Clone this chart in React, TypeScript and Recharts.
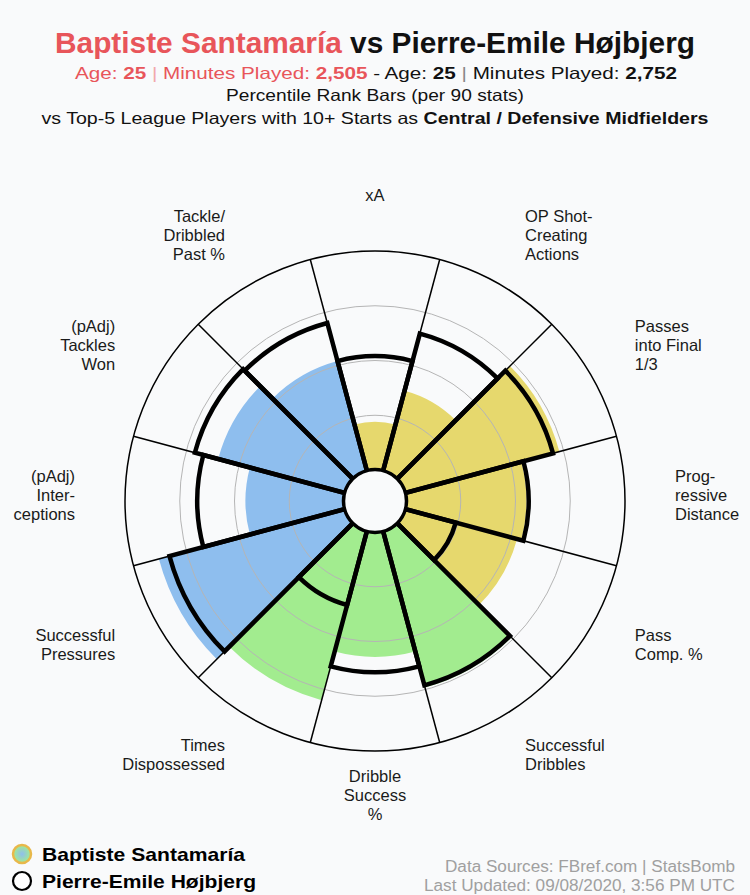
import React from 'react';
import {
  RadialBarChart,
  RadialBar,
  PolarAngleAxis,
  PolarRadiusAxis,
  PolarGrid,
  Cell,
} from 'recharts';

// ---------- data ----------
const categories = [
  'xA',
  'OP Shot-Creating Actions',
  'Passes into Final 1/3',
  'Progressive Distance',
  'Pass Comp. %',
  'Successful Dribbles',
  'Dribble Success %',
  'Times Dispossessed',
  'Successful Pressures',
  '(pAdj) Interceptions',
  '(pAdj) Tackles Won',
  'Tackle/Dribbled Past %',
];

const tickLabels = [
  ['xA'],
  ['OP Shot-', 'Creating', 'Actions'],
  ['Passes', 'into Final', '1/3'],
  ['Prog-', 'ressive', 'Distance'],
  ['Pass', 'Comp. %'],
  ['Successful', 'Dribbles'],
  ['Dribble', 'Success', '%'],
  ['Times', 'Dispossessed'],
  ['Successful', 'Pressures'],
  ['(pAdj)', 'Inter-', 'ceptions'],
  ['(pAdj)', 'Tackles', 'Won'],
  ['Tackle/', 'Dribbled', 'Past %'],
];

const santamaria = [22, 38, 73, 55, 53, 74, 57, 80, 88, 45, 60, 52];
const hojbjerg = [52, 65, 70, 56, 24, 73, 64, 35, 83, 67, 71, 70];
const groups = [
  'attack', 'attack', 'attack', 'attack', 'attack',
  'possession', 'possession', 'possession',
  'defense', 'defense', 'defense', 'defense',
];
const gridTicks = [25, 50, 75];

// ---------- styling / layout ----------
const groupColors: Record<string, string> = {
  attack: '#E6D86D',
  possession: '#A2EC8F',
  defense: '#8EBEEE',
};
const BG = '#F9FAFB';
const RED = '#E8555A';
const W = 750;
const H = 895;
const CX = 375;
const CY = 501;
const INNER = 31;
const OUTER = 250;
const STEP = 360 / categories.length;
// first band spans [START, START + STEP], i.e. centred at the top
const START = 90 - STEP / 2;
const LABEL_R = 300;
const LABEL_DY = 6;
const FONT = '"Liberation Sans", Arial, Helvetica, sans-serif';

const data = categories.map((name, i) => ({
  name,
  santa: santamaria[i],
  hoj: hojbjerg[i],
  group: groups[i],
}));

const spokeAngles = categories.map((_, i) => START - i * STEP);
const radiusOf = (v: number) => INNER + ((OUTER - INNER) * v) / 100;

const AngleTick = (props: any) => {
  const { payload } = props;
  const idx = categories.indexOf(payload.value);
  const lines = tickLabels[idx] || [String(payload.value)];
  const rad = ((payload.coordinate + STEP / 2) * Math.PI) / 180;
  const c = Math.cos(rad);
  const x = CX + LABEL_R * c;
  const y = CY - LABEL_DY - LABEL_R * Math.sin(rad);
  const anchor = Math.abs(c) < 0.01 ? 'middle' : c > 0 ? 'start' : 'end';
  const LH = 19;
  const y0 = y - ((lines.length - 1) * LH) / 2;
  return (
    <g>
      {lines.map((ln, i) => (
        <text
          key={i}
          x={x}
          y={y0 + i * LH}
          dy="0.36em"
          textAnchor={anchor}
          fontSize={16.5}
          fontFamily={FONT}
          fill="#1a1a1a"
        >
          {ln}
        </text>
      ))}
    </g>
  );
};

const chartCommon = {
  width: W,
  height: H,
  data,
  cx: CX,
  cy: CY,
  innerRadius: INNER,
  outerRadius: OUTER,
  startAngle: START,
  endAngle: START - 360,
  layout: 'centric' as any,
  barCategoryGap: 0,
  barGap: 0,
  margin: { top: 0, right: 0, bottom: 0, left: 0 },
};

export default function App() {
  return (
    <div
      style={{
        position: 'absolute',
        left: 0,
        top: 0,
        width: W,
        height: H,
        background: BG,
        overflow: 'hidden',
      }}
    >
      {/* header */}
      <svg width={W} height={140} style={{ position: 'absolute', left: 0, top: 0 }}>
        <text
          x={375}
          y={53}
          textAnchor="middle"
          fontSize={30}
          fontWeight={700}
          fontFamily={FONT}
          textLength={640}
          lengthAdjust="spacingAndGlyphs"
        >
          <tspan fill={RED}>Baptiste Santamaría</tspan>
          <tspan fill="#111"> vs Pierre-Emile Højbjerg</tspan>
        </text>
        <text
          x={376}
          y={79}
          textAnchor="middle"
          fontSize={16.5}
          fontFamily={FONT}
          textLength={602}
          lengthAdjust="spacingAndGlyphs"
        >
          <tspan fill={RED}>Age: </tspan>
          <tspan fill={RED} fontWeight={700}>25</tspan>
          <tspan fill="#F2A9AB">{'  |  '}</tspan>
          <tspan fill={RED}>Minutes Played: </tspan>
          <tspan fill={RED} fontWeight={700}>2,505</tspan>
          <tspan fill="#111"> - Age: </tspan>
          <tspan fill="#111" fontWeight={700}>25</tspan>
          <tspan fill="#888">{'  |  '}</tspan>
          <tspan fill="#111">Minutes Played: </tspan>
          <tspan fill="#111" fontWeight={700}>2,752</tspan>
        </text>
        <text
          x={375}
          y={101}
          textAnchor="middle"
          fontSize={16.5}
          fontFamily={FONT}
          fill="#111"
          textLength={298}
          lengthAdjust="spacingAndGlyphs"
        >
          Percentile Rank Bars (per 90 stats)
        </text>
        <text
          x={375}
          y={124}
          textAnchor="middle"
          fontSize={16.5}
          fontFamily={FONT}
          fill="#111"
          textLength={667}
          lengthAdjust="spacingAndGlyphs"
        >
          <tspan>vs Top-5 League Players with 10+ Starts as </tspan>
          <tspan fontWeight={700}>Central / Defensive Midfielders</tspan>
        </text>
      </svg>

      {/* layer 1: Santamaría filled bars */}
      <div style={{ position: 'absolute', left: 0, top: 0 }}>
        <RadialBarChart {...chartCommon}>
          <PolarAngleAxis type="category" dataKey="name" tick={false} axisLine={false} tickLine={false} />
          <PolarRadiusAxis type="number" domain={[0, 100]} tick={false} axisLine={false} tickLine={false} />
          <RadialBar dataKey="santa" isAnimationActive={false} stroke="none">
            {data.map((d, i) => (
              <Cell key={i} fill={groupColors[d.group]} />
            ))}
          </RadialBar>
        </RadialBarChart>
      </div>

      {/* layer 2: grid, Højbjerg outline bars, labels */}
      <div style={{ position: 'absolute', left: 0, top: 0 }}>
        <RadialBarChart {...chartCommon}>
          <PolarGrid
            gridType="circle"
            radialLines={false}
            polarRadius={gridTicks.map(radiusOf)}
            stroke="#B5B5B5"
            strokeWidth={1}
          />
          <PolarGrid
            gridType="circle"
            polarAngles={spokeAngles}
            polarRadius={[radiusOf(100)]}
            stroke="#000"
            strokeWidth={1.5}
          />
          <PolarAngleAxis
            type="category"
            dataKey="name"
            tick={<AngleTick />}
            axisLine={false}
            tickLine={false}
          />
          <PolarRadiusAxis type="number" domain={[0, 100]} tick={false} axisLine={false} tickLine={false} />
          <RadialBar
            dataKey="hoj"
            isAnimationActive={false}
            fill="none"
            stroke="#000"
            strokeWidth={4.5}
            strokeLinejoin="miter"
          />
        </RadialBarChart>
      </div>

      {/* centre hole, legend and credits */}
      <svg width={W} height={H} style={{ position: 'absolute', left: 0, top: 0, pointerEvents: 'none' }}>
        <defs>
          <radialGradient id="lg1" cx="50%" cy="50%" r="50%">
            <stop offset="0%" stopColor="#8EBEEE" />
            <stop offset="100%" stopColor="#A2EC8F" />
          </radialGradient>
        </defs>
        <circle cx={CX} cy={CY} r={INNER} fill={BG} stroke="#000" strokeWidth={2.5} />

        <circle cx={22} cy={854} r={9} fill="url(#lg1)" stroke="#E8B84A" strokeWidth={2.5} />
        <text
          x={42}
          y={861}
          fontSize={19}
          fontWeight={700}
          fontFamily={FONT}
          fill="#000"
          textLength={203}
          lengthAdjust="spacingAndGlyphs"
        >
          Baptiste Santamaría
        </text>
        <circle cx={22} cy={881} r={9} fill="#fff" stroke="#000" strokeWidth={2.2} />
        <text
          x={42}
          y={888}
          fontSize={19}
          fontWeight={700}
          fontFamily={FONT}
          fill="#000"
          textLength={214}
          lengthAdjust="spacingAndGlyphs"
        >
          Pierre-Emile Højbjerg
        </text>

        <text
          x={735}
          y={872}
          textAnchor="end"
          fontSize={16}
          fontFamily={FONT}
          fill="#A0A0A0"
          textLength={290}
          lengthAdjust="spacingAndGlyphs"
        >
          Data Sources: FBref.com | StatsBomb
        </text>
        <text
          x={735}
          y={891}
          textAnchor="end"
          fontSize={16}
          fontFamily={FONT}
          fill="#A0A0A0"
          textLength={311}
          lengthAdjust="spacingAndGlyphs"
        >
          Last Updated: 09/08/2020, 3:56 PM UTC
        </text>
      </svg>
    </div>
  );
}
